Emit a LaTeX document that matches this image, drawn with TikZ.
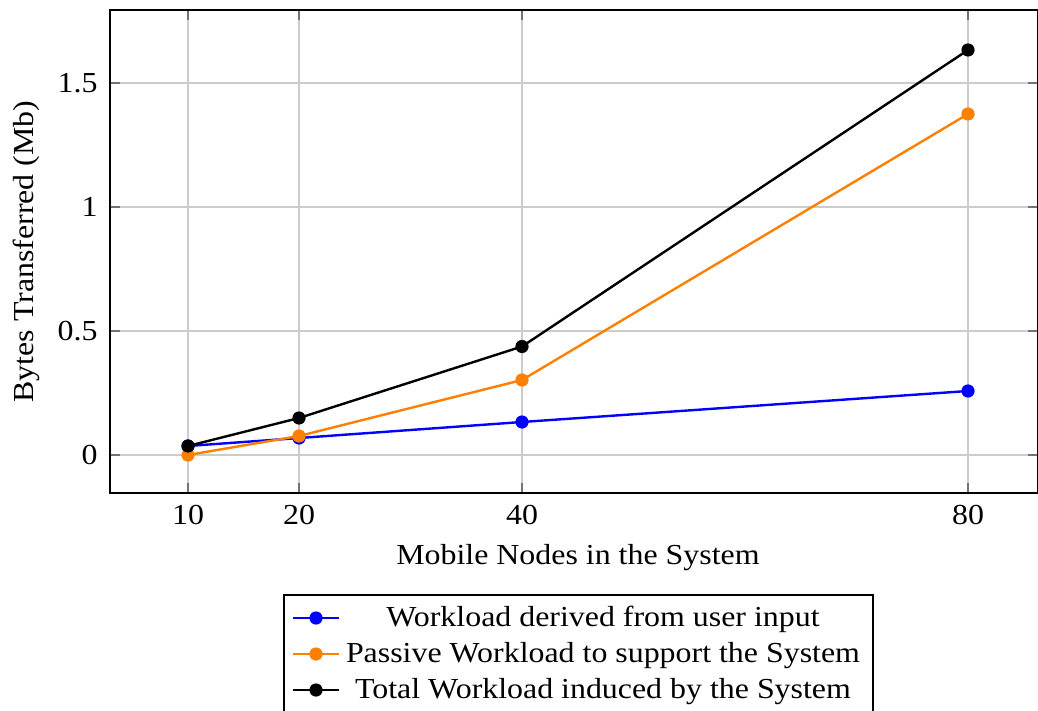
\documentclass[tikz,border=0pt]{standalone}
\usepackage{fontspec}
\setmainfont[FakeStretch=1.1]{Liberation Serif}
\definecolor{seriesorange}{RGB}{255,127,0}
\begin{document}
\begin{tikzpicture}[x=0.5pt,y=-0.5pt,
  every node/.style={font=\fontsize{14.5}{16}\selectfont, inner sep=0pt},
  gridline/.style={line width=0.6pt, draw=black!20},
  tickmark/.style={line width=0.6pt, draw=black!55},
  frame/.style={line width=0.75pt, draw=black},
  series/.style={line width=1.2pt},
  dot/.style={circle, fill, minimum size=6.6pt, inner sep=0pt},
  ticklabel/.style={anchor=base},
  yticklabel/.style={anchor=base east}]
\useasboundingbox (0,0) rectangle (1038,711);

% plot area corners
\coordinate (ll) at (110,493);
\coordinate (ur) at (1037.5,10);

% grid lines and tick marks
\foreach \xp/\lab in {188/10,299/20,522/40,968/80}{
  \draw[gridline] (\xp,10) -- (\xp,493);
  \draw[tickmark] (\xp,493) -- (\xp,483);
  \draw[tickmark] (\xp,10) -- (\xp,20);
  \node[ticklabel] (xt\lab) at (\xp,524) {\lab};
}
\foreach \yp/\lab/\nm in {455/0/a,331/0.5/b,207/1/c,83/1.5/d}{
  \draw[gridline] (110,\yp) -- (1037.5,\yp);
  \draw[tickmark] (110,\yp) -- (120,\yp);
  \draw[tickmark] (1037.5,\yp) -- (1027.5,\yp);
  \node[yticklabel] (yt\nm) at (98,\yp+9.5) {\lab};
}
\draw[frame] (ll) rectangle (ur);

% axis labels
\node[anchor=base] (xlabel) at (578,564) {Mobile Nodes in the System};
\node[anchor=base, rotate=90] (ylabel) at (33,251.5) {Bytes Transferred (Mb)};

% data points
\coordinate (b1) at (188,446); \coordinate (b2) at (299,438);
\coordinate (b3) at (522,422); \coordinate (b4) at (968,391);
\coordinate (o1) at (188,455); \coordinate (o2) at (299,436);
\coordinate (o3) at (522,380); \coordinate (o4) at (968,114);
\coordinate (k1) at (188,446); \coordinate (k2) at (299,418);
\coordinate (k3) at (522,346.5); \coordinate (k4) at (968,50);

% user-input workload
\draw[series, blue] (b1) -- (b2) -- (b3) -- (b4);
\foreach \p in {b1,b2,b3,b4} \node[dot, blue] at (\p) {};
% passive workload
\draw[series, seriesorange] (o1) -- (o2) -- (o3) -- (o4);
\foreach \p in {o1,o2,o3,o4} \node[dot, seriesorange] at (\p) {};
% total workload
\draw[series, black] (k1) -- (k2) -- (k3) -- (k4);
\foreach \p in {k1,k2,k3,k4} \node[dot, black] at (\p) {};

% legend
\coordinate (lgtl) at (284,595);
\coordinate (lgbr) at (873,716);
\draw[line width=0.6pt] (lgtl) rectangle (lgbr);
\foreach \yy/\col/\txt/\nm in {618/blue/{Workload derived from user input}/la,
                               654/seriesorange/{Passive Workload to support the System}/lb,
                               690/black/{Total Workload induced by the System}/lc}{
  \coordinate (\nm s) at (293,\yy);
  \coordinate (\nm e) at (339,\yy);
  \draw[series, \col] (\nm s) -- (\nm e);
  \node[dot, \col] (\nm m) at (316,\yy) {};
  \node[anchor=base] (\nm t) at (603,\yy+8) {\txt};
}
\end{tikzpicture}
\end{document}
